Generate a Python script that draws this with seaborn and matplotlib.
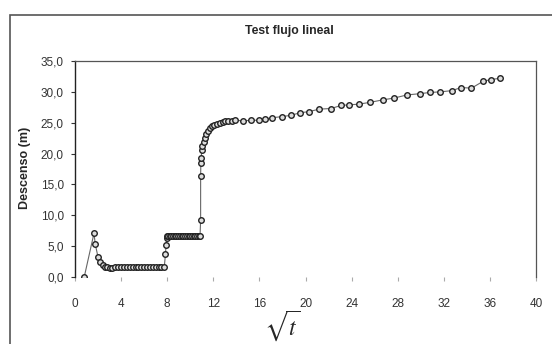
import matplotlib
matplotlib.use("Agg")
import matplotlib.pyplot as plt
import seaborn as sns
import pandas as pd
from matplotlib.patches import Rectangle
from matplotlib.ticker import FuncFormatter

sqrt_t = [0.8, 1.65, 1.75, 2.0, 2.2, 2.4, 2.6, 2.8, 3.0, 3.25, 3.5, 3.75, 4.0,
          4.25, 4.5, 4.75, 5.0, 5.25, 5.5, 5.75, 6.0, 6.25, 6.5, 6.75, 7.0,
          7.25, 7.5, 7.75, 7.85, 7.9, 7.95, 8.0, 8.1, 8.2, 8.35, 8.5, 8.65,
          8.8, 8.95, 9.1, 9.25, 9.4, 9.55, 9.7, 9.85, 10.0, 10.15, 10.3,
          10.45, 10.6, 10.75, 10.85, 10.9, 10.9, 10.92, 10.95, 11.0, 11.05,
          11.15, 11.25, 11.4, 11.55, 11.7, 11.9, 12.1, 12.3, 12.55, 12.8,
          13.05, 13.3, 13.6, 13.9, 14.6, 15.3, 16.0, 16.5, 17.1, 18.0, 18.75,
          19.5, 20.3, 21.2, 22.2, 23.1, 23.8, 24.6, 25.6, 26.7, 27.7, 28.8,
          29.9, 30.8, 31.7, 32.7, 33.5, 34.4, 35.4, 36.1, 36.9]
descenso = [0.0, 7.1, 5.4, 3.2, 2.4, 2.0, 1.7, 1.6, 1.5, 1.5, 1.6, 1.7, 1.7,
            1.7, 1.7, 1.7, 1.7, 1.7, 1.7, 1.7, 1.7, 1.7, 1.7, 1.7, 1.7,
            1.7, 1.7, 1.7, 3.7, 5.2, 6.3, 6.6, 6.7, 6.7, 6.7, 6.7, 6.7,
            6.7, 6.7, 6.7, 6.7, 6.7, 6.7, 6.7, 6.7, 6.7, 6.7, 6.7,
            6.7, 6.7, 6.7, 6.7, 9.2, 16.3, 18.5, 19.3, 20.6, 21.2,
            21.9, 22.6, 23.2, 23.7, 24.1, 24.4, 24.6, 24.8, 25.0, 25.1,
            25.2, 25.3, 25.3, 25.4, 25.3, 25.4, 25.4, 25.6, 25.8, 26.0, 26.2,
            26.6, 26.8, 27.2, 27.3, 27.8, 27.9, 28.0, 28.3, 28.7, 29.0, 29.5,
            29.7, 29.9, 30.0, 30.2, 30.7, 30.6, 31.7, 32.0, 32.2]

x_ticks = [0, 4, 8, 12, 16, 20, 24, 28, 32, 36, 40]
y_ticks = [0, 5, 10, 15, 20, 25, 30, 35]
title = "Test flujo lineal"
y_label = "Descenso (m)"

df = pd.DataFrame({"x": sqrt_t, "y": descenso})

sns.set_style("white")
plt.rcParams['font.family'] = ['Liberation Sans', 'DejaVu Sans']
plt.rcParams['mathtext.fontset'] = 'stix'

fig = plt.figure(figsize=(5.52, 3.44), dpi=100)
ax = fig.add_axes([75/552, 1-277/344, (536-75)/552, (277-61)/344])

sns.lineplot(data=df, x="x", y="y", ax=ax, estimator=None, sort=False,
             color="#666666", linewidth=0.8, marker="o", markersize=4.0,
             markerfacecolor="#dddddd", markeredgecolor="#222222",
             markeredgewidth=1.0)

ax.set_xlim(0, 40)
ax.set_ylim(0, 35)
ax.set_xticks(x_ticks)
ax.set_yticks(y_ticks)
ax.yaxis.set_major_formatter(FuncFormatter(lambda v, p: f"{v:.1f}".replace(".", ",")))
ax.tick_params(axis="both", labelsize=8.5, colors="#333333", length=3,
               width=0.8, direction="out", left=True, bottom=True)
ax.tick_params(axis="y", pad=5)
ax.tick_params(axis="x", pad=12, color="#aaaaaa")
ax.set_xlabel("")
ax.set_ylabel("")

ax.spines["left"].set_color("#222222")
ax.spines["left"].set_linewidth(1.0)
ax.spines["top"].set_color("#555555")
ax.spines["top"].set_linewidth(0.9)
ax.spines["right"].set_color("#555555")
ax.spines["right"].set_linewidth(0.9)
ax.spines["bottom"].set_visible(False)

fig.text(289/552, 1-31/344, title, ha="center", va="center",
         fontsize=8.8, fontweight="bold")
fig.text(25/552, 1-168/344, y_label, ha="center", va="center",
         rotation=90, fontsize=9, fontweight="bold")
fig.text(282/552, 1-326/344, r"$\sqrt{t}$", ha="center", va="center",
         fontsize=17)

fig.patches.append(Rectangle((10/552, -0.05), 1.2, 1-15/344+0.05,
                             transform=fig.transFigure, fill=False,
                             edgecolor="#555555", linewidth=1.2))

fig.savefig("out.png", dpi=100)
